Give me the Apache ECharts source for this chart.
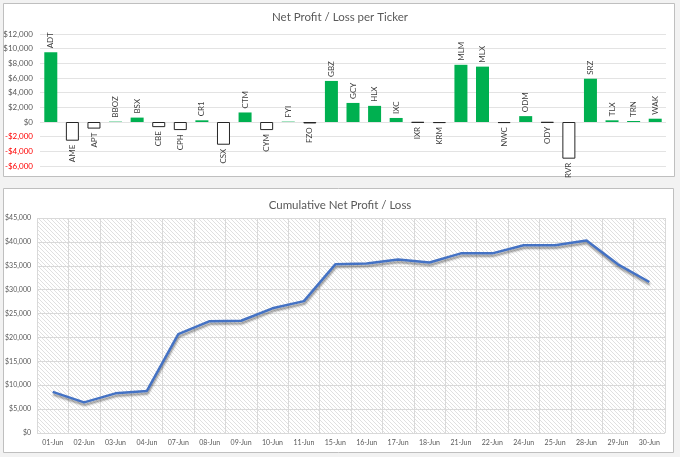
<!DOCTYPE html>
<html><head><meta charset="utf-8">
<script src="https://cdn.jsdelivr.net/npm/echarts@6/dist/echarts.min.js"></script>
<style>html,body{margin:0;padding:0;background:#f2f2f2;}#c{width:680px;height:457px;}</style>
</head><body><div id="c"></div>
<script>
var tickers = ['ADT','AME','APT','BBOZ','BSX','CBE','CPH','CR1','CSX','CTM','CYM','FYI','FZO','GBZ','GCY','HLX','IXC','IXR','KRM','MLM','MLX','NWC','ODM','ODY','RVR','SRZ','TLX','TRN','WAK'];
var profits = [9500,-2550,-900,50,600,-700,-1100,230,-3100,1300,-1100,50,-200,5600,2600,2200,550,-100,-150,7800,7550,-150,800,-100,-5000,5900,230,140,450];
var dates = ['01-Jun','02-Jun','03-Jun','04-Jun','07-Jun','08-Jun','09-Jun','10-Jun','11-Jun','15-Jun','16-Jun','17-Jun','18-Jun','21-Jun','22-Jun','24-Jun','25-Jun','28-Jun','29-Jun','30-Jun'];
var cumulative = [8600,6400,8300,8800,20700,23400,23500,26100,27600,35300,35500,36300,35700,37600,37600,39300,39300,40300,35300,31600];

// hatch pattern
var pc = document.createElement('canvas');
pc.width = 4; pc.height = 4;
var g = pc.getContext('2d');
g.fillStyle = '#ffffff'; g.fillRect(0,0,4,4);
g.fillStyle = '#e0e0e0';
for (var i = 0; i < 4; i++) { g.fillRect(i, i, 1, 1); }

function money(v){
  var s = Math.abs(v).toLocaleString('en-US');
  return (v < 0 ? '-$' : '$') + s;
}

var barData = profits.map(function(v){
  var pos = v >= 0;
  return {
    value: v,
    itemStyle: pos ? {color:'#00b050', borderColor:'#00b050', borderWidth:0}
                   : {color:'#ffffff', borderColor:'#262626', borderWidth:1},
    label: {
      show: true,
      position: pos ? 'top' : 'bottom',
      rotate: 90,
      align: pos ? 'left' : 'right',
      verticalAlign: 'middle',
      distance: 4
    }
  };
});

var chart = echarts.init(document.getElementById('c'), null, {renderer:'canvas'});
chart.setOption({
  backgroundColor: '#f2f2f2',
  animation: false,
  graphic: [
    {type:'rect', z:-10, shape:{x:3.5,y:3.5,width:671,height:173}, style:{fill:'#ffffff', stroke:'#bfbfbf', lineWidth:1}},
    {type:'rect', z:-10, shape:{x:3.5,y:188.5,width:670,height:264}, style:{fill:'#ffffff', stroke:'#bfbfbf', lineWidth:1}}
  ],
  title: [
    {text:'Net Profit / Loss per Ticker', left:'center', top:6, textStyle:{fontFamily:'Lato', fontSize:11.5, fontWeight:'normal', color:'#595959'}},
    {text:'Cumulative Net Profit / Loss', left:'center', top:194, textStyle:{fontFamily:'Lato', fontSize:11.5, fontWeight:'normal', color:'#595959'}}
  ],
  grid: [
    {left:40, right:14, top:34, height:132},
    {left:37, right:15, top:218, height:215, show:true, borderWidth:0, backgroundColor:{image:pc, repeat:'repeat'}}
  ],
  xAxis: [
    {gridIndex:0, type:'category', data:tickers, axisLine:{show:false}, axisTick:{show:false}, axisLabel:{show:false}, splitLine:{show:false}},
    {gridIndex:1, type:'category', data:dates, boundaryGap:true,
     axisLine:{show:false}, axisTick:{show:false},
     axisLabel:{fontFamily:'Lato', fontSize:7, color:'#595959', margin:6, interval:0},
     splitLine:{show:true, interval:0, lineStyle:{color:'#d9d9d9', width:1}}}
  ],
  yAxis: [
    {gridIndex:0, type:'value', min:-6000, max:12000, interval:2000,
     axisLine:{show:false}, axisTick:{show:false},
     axisLabel:{fontFamily:'Lato', fontSize:8, margin:7, formatter:money,
       color:function(v){ return v < 0 ? '#ff0000' : '#595959'; }},
     splitLine:{lineStyle:{color:'#e3e3e3'}}},
    {gridIndex:1, type:'value', min:0, max:45000, interval:5000,
     axisLine:{show:false}, axisTick:{show:false},
     axisLabel:{fontFamily:'Lato', fontSize:7, color:'#595959', margin:6, formatter:money},
     splitLine:{lineStyle:{color:'#d9d9d9'}}}
  ],
  series: [
    {type:'bar', xAxisIndex:0, yAxisIndex:0, data:barData, barWidth:13,
     label:{formatter:function(p){return p.name;}, fontFamily:'Lato', fontSize:8, color:'#404040'}},
    {type:'line', xAxisIndex:1, yAxisIndex:1, data:cumulative, symbol:'none',
     lineStyle:{color:'#4472c4', width:2.5, shadowColor:'rgba(0,0,0,0.4)', shadowBlur:2, shadowOffsetY:2.5, shadowOffsetX:0.5}}
  ]
});
</script></body></html>
